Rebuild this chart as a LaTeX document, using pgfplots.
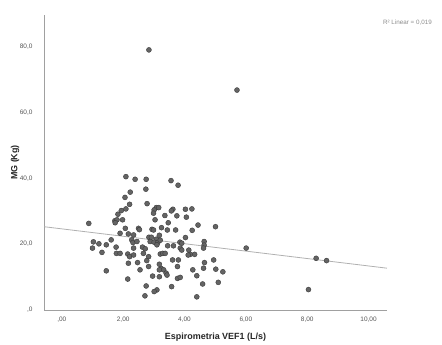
\documentclass[border=0pt]{standalone}
\usepackage{fontspec}
\setmainfont{Liberation Sans}
\usepackage{pgfplots}
\pgfplotsset{compat=1.18}
\definecolor{axisgray}{HTML}{A0A0A0}
\definecolor{tickgray}{HTML}{555555}
\definecolor{dotfill}{HTML}{646464}
\definecolor{dotedge}{HTML}{3A3A3A}
\definecolor{fitgray}{HTML}{B0B0B0}
\begin{document}
\begin{tikzpicture}
\begin{axis}[
  scale only axis,
  width=343bp, height=295bp,
  xmin=-0.58, xmax=10.6,
  ymin=0, ymax=89.6,
  axis x line*=bottom, axis y line*=left,
  axis line style={draw=axisgray, line width=0.8pt},
  xtick={0,2,4,6,8,10},
  xticklabels={{,00},{2,00},{4,00},{6,00},{8,00},{10,00}},
  ytick={0,20,40,60,80},
  yticklabels={{,0},{20,0},{40,0},{60,0},{80,0}},
  major tick length=0pt,
  tick label style={font=\fontsize{6.5}{7}\selectfont, text=tickgray},
  xticklabel style={yshift=-3bp},
  yticklabel style={xshift=-8bp},
  xlabel={Espirometria VEF1 (L/s)},
  ylabel={MG (Kg)},
  label style={font=\fontsize{9}{10}\selectfont\bfseries, text=black!85},
  xlabel style={at={(axis description cs:0.5,-0.0915)}, anchor=center},
  ylabel style={at={(axis description cs:-0.0845,0.5)}, anchor=center},
]
\addplot[fitgray, line width=0.8pt] coordinates {(-0.58,25.3) (10.6,12.7)};
\addplot[only marks, mark=*, mark size=2.5bp, mark options={fill=dotfill, draw=dotedge, line width=0.4pt}] coordinates {
(0.88,26.3) (1.03,20.7) (1.21,20.1) (1.45,19.8) (1.61,21.3) (1.00,18.8)
(1.31,17.5) (1.77,19.1) (1.78,17.2) (1.90,17.2) (1.45,11.9) (1.73,27.1)
(1.80,27.4) (1.98,27.4) (1.74,26.5) (1.83,29.1) (1.94,30.2) (2.09,30.7)
(2.21,32.1) (2.06,34.2) (2.23,35.8) (2.09,40.5) (2.39,39.7) (2.75,39.7)
(3.56,39.3) (3.79,37.9) (2.74,36.7) (2.78,32.3) (3.08,31.1) (3.16,31.1)
(3.01,30.4) (2.99,29.4) (3.62,30.6) (3.57,30.1) (4.03,30.6) (4.24,30.7)
(3.36,28.7) (3.75,28.6) (4.06,28.2) (3.04,27.4) (3.47,26.5) (4.44,25.8)
(5.01,25.3) (2.07,24.8) (2.50,24.8) (2.53,24.4) (2.94,24.5) (2.99,24.3)
(3.25,25.0) (3.44,24.3) (3.71,24.3) (4.25,24.2) (1.90,23.3) (2.17,23.1)
(2.34,22.8) (2.84,22.1) (2.92,22.1) (3.18,22.7) (3.08,21.5) (4.03,22.0)
(2.28,21.3) (2.32,20.5) (2.45,20.8) (2.88,20.8) (3.01,20.6) (3.13,20.5)
(3.21,21.2) (3.85,20.6) (3.91,20.3) (4.64,20.8) (4.64,19.7) (2.15,17.0)
(2.21,16.2) (2.34,16.7) (2.34,18.8) (2.63,19.1) (2.72,18.6) (2.66,17.2)
(2.83,16.2) (3.10,19.8) (3.21,17.0) (3.29,17.2) (3.37,17.2) (3.45,19.5)
(3.64,19.5) (3.86,18.8) (3.91,18.2) (4.14,18.2) (4.19,16.9) (4.12,16.7)
(4.33,16.9) (4.62,18.8) (6.01,18.8) (2.17,14.2) (2.47,14.4) (2.77,15.0)
(2.83,13.2) (3.18,13.9) (3.24,12.6) (3.18,12.2) (3.32,12.2) (3.40,11.2)
(3.61,15.2) (3.80,15.2) (3.77,13.2) (4.27,12.2) (4.40,10.4) (4.62,12.7)
(4.65,14.4) (4.95,15.2) (5.02,12.4) (5.25,11.6) (2.15,9.4) (2.55,12.2)
(2.96,10.3) (3.18,10.1) (3.43,10.6) (3.77,9.6) (3.86,9.9) (3.58,7.1)
(4.59,7.9) (5.10,8.4) (2.75,7.3) (3.10,6.1) (3.01,5.6) (2.71,4.3)
(4.40,4.0) (8.04,6.2) (8.29,15.7) (8.63,15.0) (2.84,79.0) (5.71,66.8)
};
\end{axis}
\path (current axis.south west) ++(388bp,287.3bp) node[anchor=east, inner sep=0pt, font=\fontsize{6.3}{7}\selectfont, text=black!45] {R² Linear = 0,019};
\pgfresetboundingbox
\path[use as bounding box] (current axis.south west) ++(-44bp,-35bp) rectangle ++(442bp,345bp);
\end{tikzpicture}
\end{document}
